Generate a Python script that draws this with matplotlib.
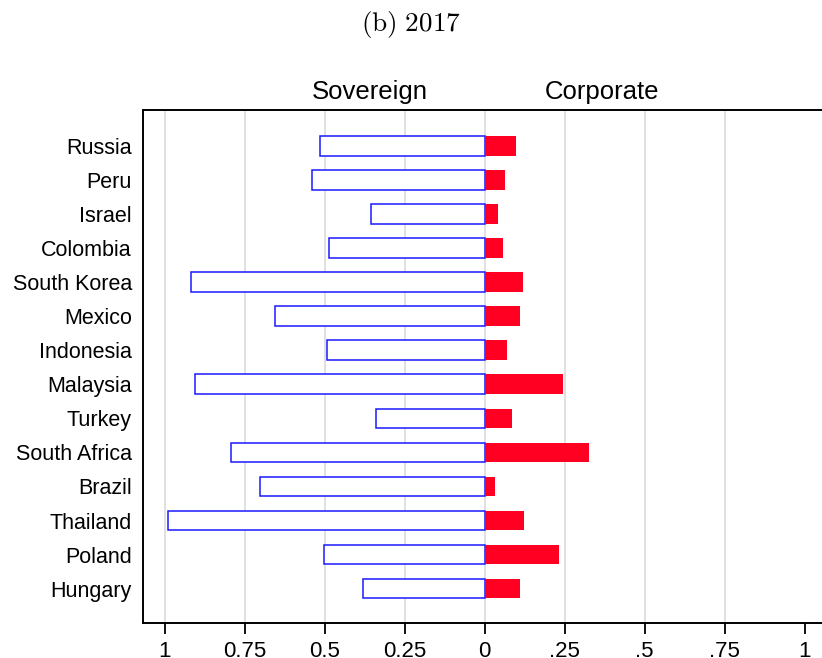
import matplotlib
matplotlib.use("Agg")
import matplotlib.pyplot as plt
import matplotlib.transforms as mtransforms
import numpy as np

plt.rcParams["font.family"] = ["Liberation Sans", "DejaVu Sans"]

# share of debt, 2017 (top to bottom as listed)
countries = ["Russia", "Peru", "Israel", "Colombia", "South Korea", "Mexico",
             "Indonesia", "Malaysia", "Turkey", "South Africa", "Brazil",
             "Thailand", "Poland", "Hungary"]
sovereign = [0.515, 0.539, 0.354, 0.488, 0.918, 0.654, 0.492, 0.906, 0.339,
             0.792, 0.702, 0.991, 0.501, 0.379]
corporate = [0.097, 0.064, 0.041, 0.056, 0.120, 0.111, 0.069, 0.244, 0.084,
             0.327, 0.031, 0.124, 0.231, 0.110]

xticks = [-1, -0.75, -0.5, -0.25, 0, 0.25, 0.5, 0.75, 1]
xticklabels = ["1", "0.75", "0.5", "0.25", "0", ".25", ".5", ".75", "1"]

W, H = 822, 658
fig = plt.figure(figsize=(W / 100, H / 100), dpi=100)
ax = fig.add_axes([143 / W, (H - 623) / H, (826.5 - 143) / W, (623 - 110) / H])

y = np.arange(len(countries))[::-1]
sov = np.array(sovereign)
corp = np.array(corporate)

# light vertical guides (none at the right-hand 1)
for xv in xticks[:-1]:
    ax.axvline(xv, color="#dddddd", lw=1.3, zorder=0)

ax.barh(y, -sov, height=0.58, facecolor="white", edgecolor="#1a1aff",
        linewidth=1.1, zorder=2)
ax.barh(y, corp, height=0.58, color="#ff0022", linewidth=0, zorder=3)

ax.set_xlim(-1.068, 1.068)
ax.set_ylim(-1.01, len(countries) - 1 + 1.06)
ax.set_yticks(y)
ax.set_yticklabels(countries, fontsize=15.5)
ax.tick_params(axis="y", length=0, pad=8)
ax.set_xticks(xticks)
ax.set_xticklabels(xticklabels, fontsize=16)
ax.tick_params(axis="x", length=8, width=1.3, pad=5)

for side in ("left", "top", "bottom"):
    ax.spines[side].set_linewidth(1.4)
ax.spines["right"].set_visible(False)

trans = mtransforms.blended_transform_factory(ax.transData, ax.transAxes)
ax.text(-0.36, 1.035, "Sovereign", transform=trans, ha="center", va="center",
        fontsize=18.5)
ax.text(0.365, 1.035, "Corporate", transform=trans, ha="center", va="center",
        fontsize=18.5)

fig.text(411 / W, 1 - 25 / H, r"$\mathrm{(b)\ 2017}$", ha="center", va="center",
         fontsize=19.5, math_fontfamily="cm")

fig.savefig("out.png", dpi=100)
